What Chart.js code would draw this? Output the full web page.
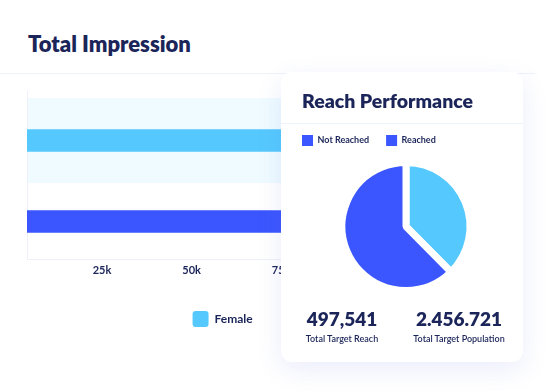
<!DOCTYPE html>
<html><head><meta charset="utf-8">
<script src="https://cdn.jsdelivr.net/npm/chart.js@4/dist/chart.umd.min.js"></script>
<style>
html,body{margin:0;padding:0;background:#fff;}
body{width:555px;height:390px;position:relative;overflow:hidden;font-family:Lato,"Noto Sans",sans-serif;color:#1b2559;}
.abs{position:absolute;white-space:nowrap;}
#title{left:28px;top:31px;font-size:22px;font-weight:800;line-height:26px;}
#rule{left:0;top:73px;width:535px;height:1px;background:#eef2fc;}
#barCanvas{left:0;top:80px;}
#card{left:281px;top:72px;width:242px;height:290px;background:#fff;border-radius:11px;box-shadow:0 8px 26px rgba(90,110,220,0.12);}
#cardTitle{left:21px;top:16.5px;font-size:19.5px;font-weight:800;line-height:24px;}
#cardRule{left:0;top:51px;width:242px;height:1px;background:#eef2fc;}
#pieCanvas{left:281px;top:118px;z-index:2;}
.stat{width:120px;text-align:center;}
.num{font-size:19px;font-weight:800;line-height:24px;}
.lab{font-size:9px;font-weight:600;line-height:12px;}
</style></head>
<body>
<div id="title" class="abs">Total Impression</div>
<div id="rule" class="abs"></div>
<canvas id="barCanvas" class="abs" width="496" height="257"></canvas>
<div id="card" class="abs">
  <div id="cardTitle" class="abs">Reach Performance</div>
  <div id="cardRule" class="abs"></div>
  <div class="abs stat num" style="left:1px;top:235px;">497,541</div>
  <div class="abs stat lab" style="left:1px;top:260.5px;">Total Target Reach</div>
  <div class="abs stat num" style="left:118px;top:235px;">2.456.721</div>
  <div class="abs stat lab" style="left:118px;top:260.5px;">Total Target Population</div>
</div>
<canvas id="pieCanvas" class="abs" width="246" height="179"></canvas>
<script>
// ---- data ----
const barCategories = ['Female', 'Male'];
const barValues = [112000, 96000];
const barColors = ['#55c9fe', '#3b56fe'];
const highlightedRow = 0;
const xTickValues = [25000, 50000, 75000, 100000, 125000];
const xMin = 4050;
const xMax = 135000;

const pieLabels = ['Reached', 'Not Reached'];
const pieValues = [37.6, 62.4];
const pieColors = ['#55c9fe', '#3b56fe'];
const pieLegendColor = '#3b56fe';

const NAVY = '#1b2559';
const FONT = 'Lato, "Noto Sans", sans-serif';

// highlighted row band
const rowBand = {
  id: 'rowBand',
  beforeDatasetsDraw(chart) {
    const {ctx, chartArea, scales} = chart;
    const yc = scales.y.getPixelForValue(highlightedRow);
    const half = 42.5;
    ctx.save();
    ctx.fillStyle = '#effbff';
    ctx.fillRect(chartArea.left + 1, yc - half, chartArea.right - chartArea.left, half * 2);
    ctx.restore();
  }
};

new Chart(document.getElementById('barCanvas'), {
  type: 'bar',
  data: {
    datasets: barCategories.map((c, i) => ({
      label: c,
      data: [{x: barValues[i], y: i}],
      backgroundColor: barColors[i],
      borderWidth: 0,
      barThickness: 22,
      grouped: false
    }))
  },
  options: {
    indexAxis: 'y',
    responsive: false,
    animation: false,
    events: [],
    layout: {padding: {top: 11, left: 27, right: 0, bottom: 0}},
    scales: {
      x: {
        type: 'linear', min: xMin, max: xMax,
        grid: {display: false, drawTicks: false},
        border: {display: true, color: '#eef1f9', width: 1},
        afterBuildTicks: axis => { axis.ticks = xTickValues.map(v => ({value: v})); },
        ticks: {
          padding: 4.9, autoSkip: false, maxRotation: 0,
          color: NAVY, font: {family: FONT, size: 11, weight: 'bold', lineHeight: 1.2},
          callback: v => (v / 1000) + 'k'
        }
      },
      y: {
        type: 'linear', reverse: true, offset: false, min: -0.611, max: 1.463,
        grid: {display: false, drawTicks: false, offset: false},
        border: {display: true, color: '#eef1f9', width: 1},
        ticks: {display: false}
      }
    },
    plugins: {
      legend: {
        position: 'bottom',
        labels: {
          boxWidth: 16, boxHeight: 16, useBorderRadius: true, borderRadius: 3,
          padding: 29, color: NAVY,
          font: {family: FONT, size: 12, weight: 'bold'}
        }
      },
      tooltip: {enabled: false}
    }
  },
  plugins: [rowBand]
});

new Chart(document.getElementById('pieCanvas'), {
  type: 'pie',
  data: {
    labels: pieLabels,
    datasets: [{
      data: pieValues,
      backgroundColor: pieColors,
      borderColor: '#ffffff',
      borderWidth: 7,
      radius: 64
    }]
  },
  options: {
    responsive: false,
    animation: false,
    events: [],
    layout: {padding: {top: 0, left: 4, right: 0, bottom: 0}},
    plugins: {
      legend: {
        position: 'top', align: 'start', reverse: true,
        labels: {
          boxWidth: 11, boxHeight: 11, useBorderRadius: true, borderRadius: 2,
          padding: 17, color: NAVY,
          font: {family: FONT, size: 9, weight: 'bold'},
          generateLabels(chart) {
            return chart.data.labels.map((l, i) => ({
              text: l, fillStyle: pieLegendColor, strokeStyle: pieLegendColor,
              lineWidth: 0, fontColor: NAVY, hidden: false, index: i
            }));
          }
        }
      },
      tooltip: {enabled: false}
    }
  }
});
</script>
</body></html>
